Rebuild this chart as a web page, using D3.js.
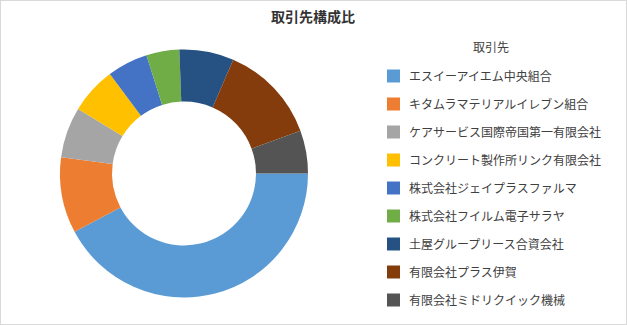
<!DOCTYPE html>
<html>
<head>
<meta charset="utf-8">
<script src="https://cdn.jsdelivr.net/npm/d3@7"></script>
<style>
  body { margin: 0; background: #fff; }
  svg { display: block; font-family: "Noto Sans CJK JP", "Noto Sans", sans-serif; }
</style>
</head>
<body>
<div id="chart"></div>
<script>
// Data (share in %)
const chartTitle = "取引先構成比";
const legendTitle = "取引先";
const names = [
    "エスイーアイエム中央組合",
    "キタムラマテリアルイレブン組合",
    "ケアサービス国際帝国第一有限会社",
    "コンクリート製作所リンク有限会社",
    "株式会社ジェイプラスファルマ",
    "株式会社フイルム電子サラヤ",
    "土屋グループリース合資会社",
    "有限会社プラス伊賀",
    "有限会社ミドリクイック機械"
];
const shares = [42.2, 9.9, 6.6, 6.1, 5.3, 4.3, 7.1, 12.9, 5.6];
const colors = ["#5b9bd5", "#ed7d31", "#a5a5a5", "#ffc000", "#4472c4", "#70ad47", "#255283", "#843c0c", "#545454"];

const W = 627, H = 325;
const svg = d3.select("#chart").append("svg")
    .attr("width", W)
    .attr("height", H);

// chart border
svg.append("rect")
    .attr("x", 0.5).attr("y", 0.5)
    .attr("width", W - 1).attr("height", H - 1)
    .attr("fill", "#fff")
    .attr("stroke", "#d9d9d9");

svg.append("text")
    .attr("x", 313).attr("y", 22)
    .attr("text-anchor", "middle")
    .attr("font-size", 14)
    .attr("font-weight", "bold")
    .attr("fill", "#333")
    .text(chartTitle);

// donut: first slice starts at 3 o'clock, clockwise
const cx = 184, cy = 173.5, outerR = 124, innerR = 72;
const pie = d3.pie().sort(null)
    .startAngle(Math.PI / 2)
    .endAngle(Math.PI / 2 + 2 * Math.PI);
const arc = d3.arc().innerRadius(innerR).outerRadius(outerR);

const g = svg.append("g").attr("transform", `translate(${cx},${cy})`);
g.selectAll("path").data(pie(shares)).enter().append("path")
    .attr("d", arc)
    .attr("fill", (d, i) => colors[i]);

// legend
const legendY = d3.scalePoint().domain(names).range([76, 300]);

svg.append("text")
    .attr("x", 491).attr("y", 51.5)
    .attr("text-anchor", "middle")
    .attr("font-size", 12)
    .attr("fill", "#404040")
    .text(legendTitle);

const items = svg.selectAll(".item").data(names).enter().append("g")
    .attr("class", "item")
    .attr("transform", d => `translate(387,${legendY(d)})`);

items.append("rect")
    .attr("x", 0).attr("y", -6.5)
    .attr("width", 13).attr("height", 13)
    .attr("fill", (d, i) => colors[i]);

items.append("text")
    .attr("x", 22).attr("y", 4.5)
    .attr("font-size", 12)
    .attr("fill", "#404040")
    .text(d => d);
</script>
</body>
</html>
